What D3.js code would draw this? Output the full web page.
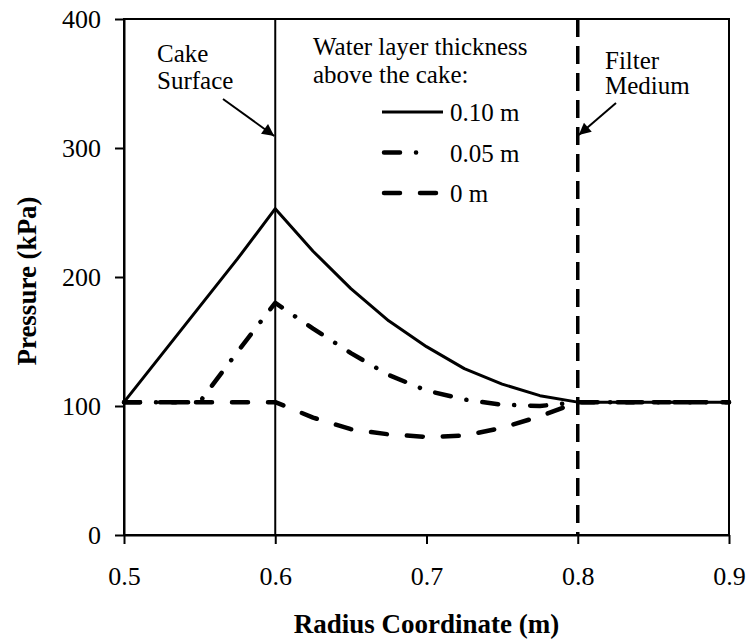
<!DOCTYPE html>
<html lang="en">
<head>
<meta charset="utf-8">
<title>Pressure vs radius</title>
<style>
  html, body { margin: 0; padding: 0; background: #fff; }
  svg text { font-family: "Times New Roman", "Liberation Serif", Times, serif; fill: #000; }
  .axis path, .axis line { stroke: #000; stroke-width: 2px; }
</style>
</head>
<body>
<div id="chart"></div>
<script src="https://cdn.jsdelivr.net/npm/d3@7"></script>
<script>
// values
var radius = [0.5, 0.525, 0.55, 0.575, 0.6, 0.625, 0.65, 0.675, 0.7, 0.725, 0.75, 0.775, 0.8, 0.85, 0.9];
var water010 = [103, 140, 177, 214, 253, 220, 191, 166, 146, 129, 117, 108, 103, 103, 103];
var water005 = [103, 103, 103, 142, 180, 160, 141, 124, 112, 105, 101, 100, 103, 103, 103];
var water000 = [103, 103, 103, 103, 103, 91, 82, 78, 76, 77, 83, 92, 103, 103, 103];
var seriesNames = ["0.10 m", "0.05 m", "0 m"];
var xTicks = [0.5, 0.6, 0.7, 0.8, 0.9];
var yTicks = [0, 100, 200, 300, 400];
var cakeSurface = 0.6, filterMedium = 0.8;

var width = 747, height = 643;
var margin = {top: 19, right: 18, bottom: 108, left: 124};
var serif = '"Times New Roman", "Liberation Serif", Times, serif';

var svg = d3.select("#chart")
  .append("svg")
  .attr("width", width)
  .attr("height", height)
  .attr("font-family", serif);

var x = d3.scaleLinear().domain([0.5, 0.9]).range([margin.left, width - margin.right]);
var y = d3.scaleLinear().domain([0, 400]).range([height - margin.bottom, margin.top]);

// line styles: solid, dash-dot, dash
var styles = [
  {width: 3, dash: null, cap: "butt", legendEnd: 61},
  {width: 4.5, dash: "16,16,0.1,16", cap: "round", legendEnd: 40},
  {width: 4.5, dash: "16,20", cap: "round", legendEnd: 54}
];
var series = [water010, water005, water000];

svg.append("defs")
  .append("marker")
  .attr("id", "arrowhead")
  .attr("viewBox", "0 -5 10 10")
  .attr("refX", 10)
  .attr("refY", 0)
  .attr("orient", "auto")
  .attr("markerUnits", "userSpaceOnUse")
  .attr("markerWidth", 16)
  .attr("markerHeight", 12)
  .append("path")
  .attr("d", "M0,-5 L10,0 L0,5 Z")
  .attr("fill", "#000");

// frame (top and right)
svg.append("rect")
  .attr("x", x(0.5))
  .attr("y", y(400))
  .attr("width", x(0.9) - x(0.5))
  .attr("height", y(0) - y(400))
  .attr("fill", "none")
  .attr("stroke", "#000")
  .attr("stroke-width", 2);

// cake surface and filter medium
svg.append("line")
  .attr("x1", x(cakeSurface)).attr("x2", x(cakeSurface))
  .attr("y1", y(400)).attr("y2", y(0))
  .attr("stroke", "#000").attr("stroke-width", 2);

svg.append("line")
  .attr("x1", x(filterMedium)).attr("x2", x(filterMedium))
  .attr("y1", y(400)).attr("y2", y(0))
  .attr("stroke", "#000").attr("stroke-width", 3.5)
  .attr("stroke-dasharray", "18,9");

var line = d3.line()
  .x(function (d) { return x(d[0]); })
  .y(function (d) { return y(d[1]); });

// draw dashed first so the solid sits on top
[2, 1, 0].forEach(function (i) {
  var pts = radius.map(function (r, j) { return [r, series[i][j]]; });
  svg.append("path")
    .datum(pts)
    .attr("d", line)
    .attr("fill", "none")
    .attr("stroke", "#000")
    .attr("stroke-width", styles[i].width)
    .attr("stroke-linecap", styles[i].cap)
    .attr("stroke-linejoin", "round")
    .attr("stroke-dasharray", styles[i].dash);
});

// axes
svg.append("g")
  .attr("class", "axis")
  .attr("transform", "translate(0," + y(0) + ")")
  .call(d3.axisBottom(x).tickValues(xTicks).tickSizeInner(9).tickSizeOuter(0).tickPadding(23)
    .tickFormat(d3.format(".1f")));

svg.append("g")
  .attr("class", "axis")
  .attr("transform", "translate(" + x(0.5) + ",0)")
  .call(d3.axisLeft(y).tickValues(yTicks).tickSizeInner(9).tickSizeOuter(0).tickPadding(14));

svg.selectAll(".axis")
  .attr("font-family", serif)
  .attr("font-size", 26);

// axis titles
svg.append("text")
  .attr("x", (x(0.5) + x(0.9)) / 2)
  .attr("y", 633)
  .attr("text-anchor", "middle")
  .style("font-size", "27px")
  .style("font-weight", "bold")
  .text("Radius Coordinate (m)");

svg.append("text")
  .attr("transform", "translate(36," + (y(200) + 4) + ") rotate(-90)")
  .attr("text-anchor", "middle")
  .style("font-size", "27px")
  .style("font-weight", "bold")
  .text("Pressure (kPa)");

// annotations
var note = svg.append("text").style("font-size", "25px");
note.append("tspan").attr("x", 157).attr("y", 62).text("Cake");
note.append("tspan").attr("x", 157).attr("y", 89).text("Surface");

var note2 = svg.append("text").style("font-size", "25px");
note2.append("tspan").attr("x", 605).attr("y", 69).text("Filter");
note2.append("tspan").attr("x", 605).attr("y", 94).text("Medium");

svg.append("line")
  .attr("x1", 223).attr("y1", 99)
  .attr("x2", x(cakeSurface) - 1).attr("y2", 136)
  .attr("stroke", "#000").attr("stroke-width", 2)
  .attr("marker-end", "url(#arrowhead)");

svg.append("line")
  .attr("x1", 616).attr("y1", 103)
  .attr("x2", x(filterMedium) + 1).attr("y2", 135)
  .attr("stroke", "#000").attr("stroke-width", 2)
  .attr("marker-end", "url(#arrowhead)");

// legend
var legendTitle = svg.append("text").style("font-size", "25px");
legendTitle.append("tspan").attr("x", 313).attr("y", 55).text("Water layer thickness");
legendTitle.append("tspan").attr("x", 313).attr("y", 83).text("above the cake:");

var legend = svg.selectAll(".legend")
  .data(seriesNames)
  .enter()
  .append("g")
  .attr("class", "legend")
  .attr("transform", function (d, i) { return "translate(382," + (112 + i * 40.5) + ")"; });

legend.append("line")
  .attr("x1", function (d, i) { return styles[i].cap === "round" ? 2 : 0; })
  .attr("x2", function (d, i) { return styles[i].legendEnd; })
  .attr("stroke", "#000")
  .attr("stroke-width", function (d, i) { return styles[i].width; })
  .attr("stroke-linecap", function (d, i) { return styles[i].cap; })
  .attr("stroke-dasharray", function (d, i) { return styles[i].dash; });

legend.append("text")
  .attr("x", 68)
  .attr("y", 9)
  .style("font-size", "25px")
  .text(function (d) { return d; });
</script>
</body>
</html>
